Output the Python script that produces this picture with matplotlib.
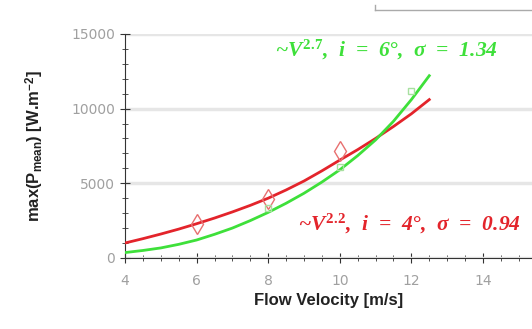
import numpy as np
import matplotlib.pyplot as plt
from matplotlib.ticker import MultipleLocator

# measured points
v_red = [6, 8, 10]
p_red = [2250, 3950, 7150]
v_green = [8, 10, 12]
p_green = [3350, 6100, 11200]

# fitted curves
v_curve = [4, 4.5, 5, 5.5, 6, 6.5, 7, 7.5, 8, 8.5, 9, 9.5, 10, 10.5, 11, 11.5, 12, 12.5]
p_red_fit = [1000, 1290, 1600, 1930, 2290, 2670, 3080, 3520, 4000, 4550, 5150, 5830, 6550,
             7250, 8000, 8800, 9650, 10600]
p_green_fit = [360, 500, 670, 910, 1200, 1580, 2000, 2500, 3050, 3660, 4330, 5080, 5900,
               6850, 7900, 9150, 10600, 12200]

red = '#e3242b'
green = '#3ee03a'

plt.rcParams['mathtext.fontset'] = 'custom'
plt.rcParams['mathtext.it'] = 'Liberation Serif:bold:italic'
plt.rcParams['mathtext.rm'] = 'Liberation Serif:bold'
plt.rcParams['mathtext.bf'] = 'Liberation Sans:bold'

fig = plt.figure(figsize=(5.32, 3.29), dpi=100)
ax = fig.add_axes([0.235, 0.216, 0.765, 0.681])

ax.plot(v_curve, p_red_fit, color=red, lw=2, zorder=3)
ax.plot(v_curve, p_green_fit, color=green, lw=2, zorder=3)
ax.plot(v_red, p_red, ls='none', marker='d', ms=10, mfc='none', mec='#e87070', mew=1, zorder=4)
ax.plot(v_green, p_green, ls='none', marker='s', ms=5, mfc='none', mec='#a8e0a0', mew=1, zorder=4)

ax.set_xlim(4, 15.37)
ax.set_ylim(0, 15000)
ax.xaxis.set_major_locator(MultipleLocator(2))
ax.xaxis.set_minor_locator(MultipleLocator(0.5))
ax.yaxis.set_major_locator(MultipleLocator(5000))
ax.yaxis.set_minor_locator(MultipleLocator(1000))
ax.tick_params(which='both', direction='inout', colors='#333333', labelcolor='#a0a0a0',
               labelsize=10)
ax.tick_params(which='major', length=7)
ax.tick_params(which='minor', length=4)
ax.tick_params(axis='x', pad=8)
for s in ['top', 'right']:
    ax.spines[s].set_visible(False)
for s in ['left', 'bottom']:
    ax.spines[s].set_color('#333333')
ax.grid(axis='y', color='#e6e6e6', lw=2.5)
ax.set_axisbelow(True)

ax.set_xlabel('Flow Velocity [m/s]', fontsize=12, fontweight='bold', family='Liberation Sans',
              color='#222222')
ax.set_ylabel(r'max(P$_{\mathbf{mean}}$) [W.m$^{\mathbf{-2}}$]', fontsize=12, fontweight='bold',
              family='Liberation Sans', color='#222222', labelpad=18)

ax.text(11.3, 13950, r'~$V^{2.7}$,  i  =  6°,  σ  =  1.34', color=green, fontsize=15.5,
        family='Liberation Serif', fontweight='bold', style='italic', ha='center', va='center')
ax.text(11.95, 2250, r'~$V^{2.2}$,  i  =  4°,  σ  =  0.94', color=red, fontsize=15.5,
        family='Liberation Serif', fontweight='bold', style='italic', ha='center', va='center')

# box edge above the plot
fig.add_artist(plt.Line2D([375 / 532, 1.0], [1 - 10 / 329, 1 - 10 / 329], color='#aaaaaa', lw=1))
fig.add_artist(plt.Line2D([375 / 532, 375 / 532], [1 - 10 / 329, 1 - 5 / 329], color='#aaaaaa', lw=1))

fig.savefig('out.png', dpi=100)
